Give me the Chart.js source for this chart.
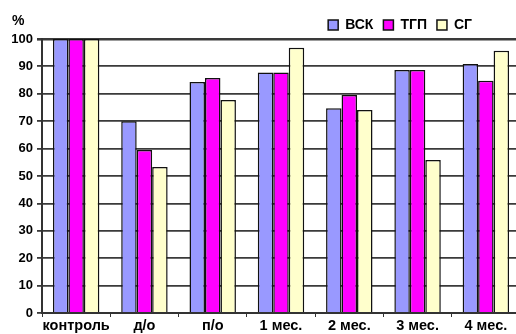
<!DOCTYPE html>
<html>
<head>
<meta charset="utf-8">
<script src="https://cdn.jsdelivr.net/npm/chart.js@4"></script>
<style>
  html, body { margin: 0; padding: 0; background: #fff; overflow: hidden; }
  #wrap { width: 522px; height: 334px; }
</style>
</head>
<body>
<div id="wrap"><canvas id="chart" width="522" height="334"></canvas></div>
<script>
const categories = ['контроль', 'д/о', 'п/о', '1 мес.', '2 мес.', '3 мес.', '4 мес.'];
const vsk = [100, 70, 84.3, 87.8, 74.7, 88.7, 90.9];
const tgp = [100, 59.5, 85.8, 87.8, 79.6, 88.7, 84.8];
const sg = [100, 53.3, 77.7, 96.8, 74.1, 55.8, 95.7];
const yTicks = [0, 10, 20, 30, 40, 50, 60, 70, 80, 90, 100];

const font = 'Arial, "Liberation Sans", sans-serif';

// "%" over the y labels, and legend moved left a bit
const extras = {
  id: 'extras',
  beforeDraw(chart) {
    const lg = chart.legend;
    if (lg) { lg.right = 482; lg.top = 8; }
  },
  afterDraw(chart) {
    const ctx = chart.ctx;
    ctx.save();
    ctx.fillStyle = '#000';
    ctx.font = 'bold 14px ' + font;
    ctx.textBaseline = 'middle';
    ctx.fillText('%', 12, 21);
    ctx.restore();
  }
};

new Chart(document.getElementById('chart'), {
  type: 'bar',
  data: {
    labels: categories,
    datasets: [
      {label: 'ВСК', data: vsk, backgroundColor: '#9999ff'},
      {label: 'ТГП', data: tgp, backgroundColor: '#ff00ff'},
      {label: 'СГ', data: sg, backgroundColor: '#ffffcc'}
    ].map(d => Object.assign(d, {borderColor: '#111', borderWidth: 1.5, categoryPercentage: 0.68, barPercentage: 1}))
  },
  options: {
    responsive: false,
    animation: false,
    layout: {padding: {top: 5, right: 2, left: 0, bottom: 0}},
    plugins: {
      legend: {
        position: 'top',
        align: 'end',
        labels: {
          font: {family: font, size: 14, weight: 'bold'},
          color: '#000',
          boxWidth: 10,
          boxHeight: 10,
          padding: 10
        }
      },
      tooltip: {enabled: false}
    },
    scales: {
      x: {
        grid: {drawOnChartArea: false, drawTicks: true, tickLength: 4, color: '#333'},
        border: {color: '#333', width: 2},
        ticks: {font: {family: font, size: 14.5, weight: 'bold'}, color: '#000', padding: 0, maxRotation: 0, autoSkip: false},
        afterFit(s) { s.height = 21; }
      },
      y: {
        min: 0,
        max: 100,
        afterBuildTicks(s) { s.ticks = yTicks.map(v => ({value: v})); },
        grid: {color: '#3a3a3a', lineWidth: c => c.tick && c.tick.value === 100 ? 2.6 : 1.8, tickLength: 5},
        border: {color: '#333', width: 2},
        ticks: {font: {family: font, size: 13, weight: 'bold'}, color: '#000', padding: 4},
        afterFit(s) { s.width = 42; }
      }
    }
  },
  plugins: [extras]
});
</script>
</body>
</html>
